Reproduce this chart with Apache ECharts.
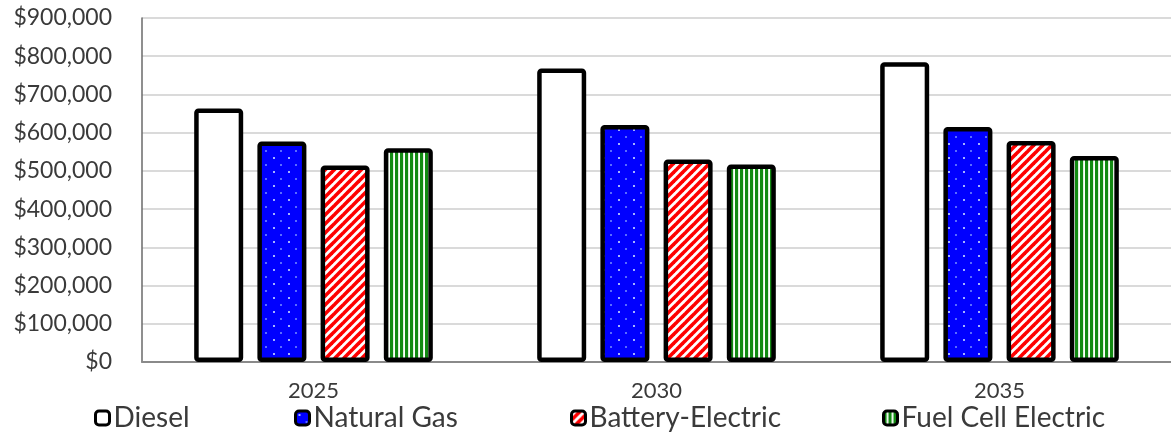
<!DOCTYPE html>
<html>
<head>
<meta charset="utf-8">
<script src="https://cdn.jsdelivr.net/npm/echarts@6/dist/echarts.min.js"></script>
<style>
  html, body { margin: 0; padding: 0; background: #fff; }
  #chart { width: 1171px; height: 434px; }
</style>
</head>
<body>
<div id="chart"></div>
<script>
// Cost per truck by powertrain and year
const years = ['2025', '2030', '2035'];
const diesel = [663000, 768000, 784000];
const naturalGas = [577000, 620000, 615000];
const batteryElectric = [514000, 530000, 578000];
const fuelCellElectric = [559000, 517000, 539000];
const seriesNames = ['Diesel', 'Natural Gas', 'Battery-Electric', 'Fuel Cell Electric'];
const yMin = 0, yMax = 900000, yStep = 100000;

const FONT = 'Lato, "Open Sans", sans-serif';
const TEXT = '#3a3a3a';

function makeCanvas(w, h, draw) {
  const c = document.createElement('canvas');
  c.width = w; c.height = h;
  draw(c.getContext('2d'));
  return c;
}
// blue with a staggered grid of pale dots
const dotFill = makeCanvas(15, 14, ctx => {
  ctx.fillStyle = '#0000ff'; ctx.fillRect(0, 0, 15, 14);
  ctx.fillStyle = '#a6b2ff'; ctx.fillRect(3, 3, 2, 2);
  ctx.fillStyle = '#5a6cff'; ctx.fillRect(10, 10, 2, 2);
});
// red diagonal stripes
const stripeFill = makeCanvas(9, 9, ctx => {
  ctx.fillStyle = '#ffffff'; ctx.fillRect(0, 0, 9, 9);
  ctx.strokeStyle = '#ff0000'; ctx.lineWidth = 3.6;
  [[-4.5, 4.5, 4.5, -4.5], [0, 9, 9, 0], [4.5, 13.5, 13.5, 4.5]].forEach(([a, b, c, d]) => {
    ctx.beginPath(); ctx.moveTo(a, b); ctx.lineTo(c, d); ctx.stroke();
  });
});
// green vertical stripes
const vlineFill = makeCanvas(5, 4, ctx => {
  ctx.fillStyle = '#ffffff'; ctx.fillRect(0, 0, 5, 4);
  ctx.fillStyle = '#138a13'; ctx.fillRect(0, 0, 3, 4);
  ctx.fillStyle = '#bfe0bf'; ctx.fillRect(3, 0, 0.5, 4);
});

const fills = [
  '#ffffff',
  { image: dotFill, repeat: 'repeat' },
  { image: stripeFill, repeat: 'repeat' },
  { image: vlineFill, repeat: 'repeat' }
];
const values = [diesel, naturalGas, batteryElectric, fuelCellElectric];

const legendLeft = [94, 294, 570, 882];

const chart = echarts.init(document.getElementById('chart'), null, { renderer: 'canvas' });
chart.setOption({
  animation: false,
  backgroundColor: '#ffffff',
  grid: { left: 142, right: -3, top: 18, bottom: 72, containLabel: false },
  legend: seriesNames.map((n, i) => ({
    data: [n],
    left: legendLeft[i],
    top: 404,
    itemWidth: 14,
    itemHeight: 14,
    itemGap: 0,
    padding: 0,
    itemStyle: { borderColor: '#000000', borderWidth: 3 },
    textStyle: { fontFamily: FONT, fontSize: 28, color: TEXT, padding: [0, 0, 0, -1] }
  })),
  xAxis: {
    type: 'category',
    data: years,
    axisLine: { lineStyle: { color: '#8a8a8a', width: 2 } },
    axisTick: { show: false },
    axisLabel: { fontFamily: FONT, fontSize: 22, color: TEXT, margin: 18 }
  },
  yAxis: {
    type: 'value',
    min: yMin, max: yMax, interval: yStep,
    axisLine: { show: true, lineStyle: { color: '#6a6a6a', width: 1.5 } },
    axisTick: { show: false },
    splitLine: { lineStyle: { color: '#dadada', width: 2 } },
    axisLabel: {
      fontFamily: FONT, fontSize: 23, color: TEXT, margin: 30,
      formatter: v => '$' + v.toLocaleString('en-US')
    }
  },
  series: seriesNames.map((n, i) => ({
    name: n,
    type: 'bar',
    data: values[i],
    barWidth: 49,
    barGap: '29%',
    itemStyle: {
      color: fills[i],
      borderColor: '#000000',
      borderWidth: 4.5,
      borderRadius: 2
    },
    emphasis: { disabled: true }
  }))
});
</script>
</body>
</html>
